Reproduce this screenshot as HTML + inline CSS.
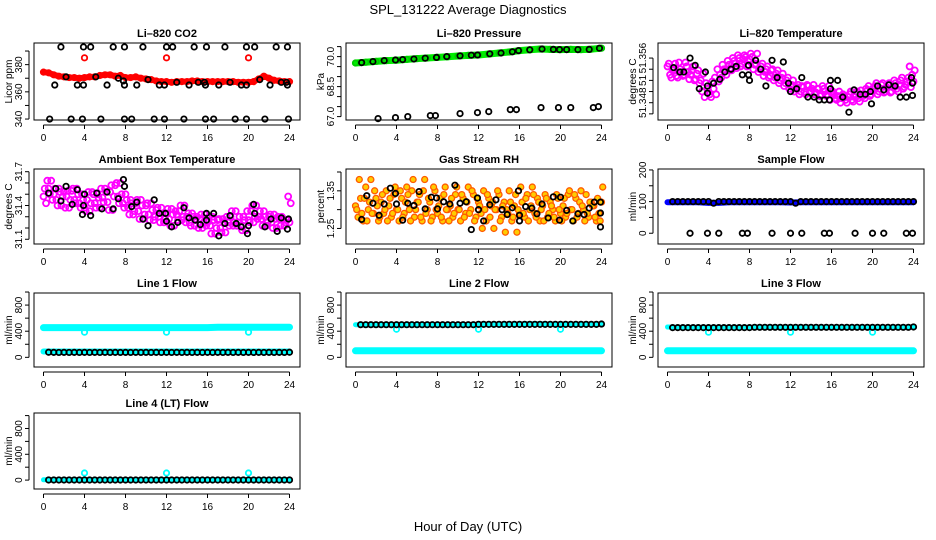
<!DOCTYPE html>
<html><head><meta charset="utf-8"><style>
html,body{margin:0;padding:0;background:#fff}
svg{display:block}
text{font-family:"Liberation Sans",sans-serif;fill:#000}
</style></head><body>
<svg id="chart" width="936" height="540" viewBox="0 0 936 540" xmlns="http://www.w3.org/2000/svg">
<text x="468" y="14" font-size="13" text-anchor="middle">SPL_131222  Average Diagnostics</text>
<text x="468" y="531" font-size="13" text-anchor="middle">Hour of Day (UTC)</text>
</svg>
<script>
// ---------- data ----------
const xTicks = [0,4,8,12,16,20,24];
// CO2
const co2RedT = [0,0.5,1,1.5,2,2.5,3,3.5,4,4.5,5,5.5,6,6.5,7,7.5,8,8.5,9,9.5,10,10.5,11,11.5,12,12.5,13,13.5,14,14.5,15,15.5,16,16.5,17,17.5,18,18.5,19,19.5,20,20.5,21,21.5,22,22.5,23,23.5,24];
const co2Red = [374.5,374,372.5,371.5,371,370.5,370.5,370,370.5,371,371,372,372.5,372.5,371.5,372,370.5,370.5,371,370,369.5,369,368,367.5,367.5,367,367.5,367.5,367.5,368,368,367.5,367.5,367.5,367.5,367.5,367.5,367.5,367,367,367,367.5,369.5,371.5,370,368.5,368,367.5,367.5];
const co2RedOutT = [4,12,20];
const co2RedOut = [385,385,385];
const co2BlackT = [0.6,1.1,1.7,2.2,2.7,3.3,3.8,3.9,3.9,4.6,5.1,5.6,6.2,6.8,7.3,7.8,7.9,7.9,7.9,8.6,9.1,9.7,10.2,10.8,11.3,11.8,11.8,12.0,12.6,13.0,13.7,14.2,14.7,15.1,15.7,15.8,15.8,15.9,16.6,17.1,17.7,18.2,18.7,19.3,19.8,19.8,19.8,20.6,21.1,21.6,22.1,22.7,23.2,23.7,23.8,23.8,23.9];
const co2Black = [340,365,393,371,340,365,340,393,365,393,371,340,365,393,370,368,393,340,365,340,365,393,369,340,365,340,365,393,393,367,340,365,393,367,367,340,365,393,340,365,393,367,340,365,340,365,393,393,369,340,365,393,367,367,393,365,340];
// Pressure
const presGreenT = [0,1,2,3,4,5,6,7,8,9,10,11,12,13,14,15,16,17,18,19,20,21,22,23,24];
const presGreen = [69.68,69.72,69.76,69.8,69.82,69.86,69.9,69.93,69.96,69.99,70.03,70.06,70.08,70.13,70.18,70.23,70.3,70.34,70.38,70.36,70.35,70.36,70.35,70.37,70.42];
const presBlackT = [0.6,1.7,2.8,3.9,4.6,5.7,6.8,7.9,8.9,10.2,11.3,11.9,13.1,14.2,15.3,15.9,17.0,18.2,19.3,19.9,20.6,21.7,22.8,23.8,2.2,3.9,5.1,7.3,7.8,10.2,11.9,13.0,15.1,15.7,18.1,19.8,21.0,23.2,23.7];
const presBlack = [69.7,69.75,69.8,69.83,69.85,69.88,69.92,69.96,70.0,70.04,70.07,70.08,70.14,70.18,70.24,70.3,70.34,70.38,70.36,70.35,70.35,70.35,70.36,70.42,66.9,66.95,67.0,67.05,67.05,67.15,67.2,67.25,67.35,67.35,67.45,67.45,67.45,67.45,67.5];
// Li-820 temperature (magenta every 0.25 h)
const ltMag = [51.3545,51.3530,51.3538,51.3550,51.3525,51.3540,51.3528,51.3552,51.3535,51.3530,51.3545,51.3522,51.3538,51.3520,51.3532,51.3515,51.3500,51.3490,51.3505,51.3495,51.3518,51.3525,51.3540,51.3530,51.3548,51.3538,51.3555,51.3542,51.3560,51.3550,51.3565,51.3545,51.3558,51.3562,51.3548,51.3568,51.3540,51.3550,51.3535,51.3545,51.3528,51.3540,51.3525,51.3538,51.3520,51.3532,51.3515,51.3525,51.3510,51.3520,51.3505,51.3512,51.3500,51.3508,51.3495,51.3510,51.3500,51.3512,51.3498,51.3505,51.3495,51.3505,51.3492,51.3510,51.3500,51.3495,51.3485,51.3500,51.3488,51.3492,51.3480,51.3495,51.3485,51.3490,51.3500,51.3482,51.3495,51.3488,51.3502,51.3492,51.3505,51.3510,51.3495,51.3505,51.3515,51.3500,51.3512,51.3498,51.3508,51.3515,51.3500,51.3520,51.3505,51.3512,51.3525,51.3508,51.3518];
const ltBlackT = [0.6,1.2,1.6,2.2,2.7,3.1,3.7,3.9,3.9,4.5,5.1,5.6,6.2,6.7,7.3,7.9,8.0,7.9,8.6,9.1,9.6,10.2,10.7,11.3,11.8,12.0,12.6,13.1,13.7,14.3,14.8,15.3,15.8,15.9,15.9,16.6,17.1,17.7,18.2,18.8,19.3,19.8,19.9,20.5,21.1,21.6,22.2,22.7,23.3,23.8,23.9,23.9];
const ltBlack = [51.3543,51.3535,51.3535,51.356,51.3547,51.3505,51.3535,51.351,51.3497,51.3515,51.3522,51.3535,51.354,51.3545,51.353,51.353,51.352,51.3547,51.3556,51.354,51.351,51.3556,51.3525,51.3553,51.3515,51.35,51.3505,51.3525,51.349,51.349,51.3485,51.3485,51.3485,51.352,51.3505,51.352,51.349,51.3463,51.3503,51.3495,51.3495,51.35,51.3478,51.351,51.3503,51.3512,51.351,51.349,51.349,51.3525,51.3515,51.3493];
// Ambient box temperature
const abMag = [31.48,31.42,31.55,31.62,31.50,31.45,31.55,31.40,31.52,31.48,31.38,31.53,31.45,31.55,31.42,31.50,31.38,31.45,31.35,31.52,31.42,31.50,31.38,31.47,31.55,31.43,31.52,31.36,31.58,31.48,31.60,31.42,31.50,31.38,31.45,31.32,31.42,31.35,31.45,31.28,31.40,31.32,31.42,31.27,31.36,31.30,31.38,31.25,31.33,31.28,31.37,31.22,31.32,31.35,31.27,31.40,31.30,31.25,31.33,31.22,31.30,31.28,31.20,31.32,31.25,31.22,31.30,31.15,31.27,31.20,31.28,31.16,31.25,31.30,31.22,31.35,31.25,31.22,31.30,31.18,31.27,31.35,31.25,31.40,31.30,31.28,31.35,31.22,31.30,31.25,31.32,31.20,31.28,31.30,31.22,31.27,31.25];
const abBlackT = [0.5,1.2,1.7,2.2,2.8,3.3,3.8,3.9,4.0,4.6,5.2,5.7,6.2,6.8,7.3,7.8,7.9,8.6,9.1,9.7,10.2,10.8,11.3,11.9,12.0,12.5,13.1,13.7,14.2,14.8,15.3,15.9,15.9,16.6,17.1,17.7,18.2,18.8,19.3,19.9,20.0,20.5,20.6,21.6,22.2,22.8,23.2,23.8,23.9];
const abBlack = [31.51,31.55,31.44,31.57,31.41,31.54,31.32,31.40,31.50,31.31,31.51,31.37,31.52,31.37,31.46,31.63,31.57,31.39,31.43,31.28,31.22,31.45,31.33,31.33,31.26,31.21,31.25,31.38,31.29,31.27,31.23,31.33,31.27,31.33,31.13,31.24,31.31,31.24,31.21,31.15,31.22,31.41,31.33,31.21,31.28,31.17,31.29,31.19,31.28];
// Gas stream RH
const rhCloud = [1.31,1.28,1.33,1.27,1.36,1.30,1.38,1.29,1.33,1.27,1.32,1.29,1.35,1.31,1.28,1.34,1.30,1.27,1.33,1.29,1.36,1.30,1.35,1.28,1.32,1.34,1.27,1.38,1.30,1.32,1.28,1.35,1.29,1.33,1.27,1.36,1.30,1.31,1.28,1.34,1.30,1.27,1.33,1.29,1.36,1.30,1.34,1.28,1.32,1.29,1.35,1.27,1.33,1.31,1.25,1.30,1.34,1.28,1.32,1.30,1.35,1.27,1.31,1.24,1.29,1.32,1.28,1.34,1.30,1.36,1.29,1.33,1.27,1.31,1.34,1.28,1.32,1.30,1.27,1.33,1.29,1.31,1.28,1.34,1.30,1.27,1.33,1.29,1.35,1.30,1.34,1.28,1.32,1.31,1.27,1.29,1.32];
const rhBlackT = [0.6,1.1,1.7,2.3,2.8,3.4,3.9,4.0,4.6,5.1,5.7,6.2,6.8,7.4,7.9,8.0,8.6,9.2,9.7,10.2,10.8,11.3,11.9,12.0,12.5,13.1,13.7,14.3,14.8,15.3,15.9,16.0,16.0,16.6,17.2,17.7,18.2,18.8,19.3,19.9,20.0,20.6,21.2,21.7,22.3,22.8,23.3,23.9,23.9,23.9];
const rhBlack = [1.274,1.337,1.317,1.285,1.315,1.357,1.343,1.315,1.272,1.317,1.311,1.348,1.302,1.333,1.331,1.302,1.321,1.315,1.365,1.317,1.321,1.247,1.331,1.30,1.27,1.313,1.326,1.30,1.287,1.305,1.35,1.285,1.27,1.308,1.304,1.289,1.315,1.278,1.334,1.272,1.333,1.298,1.27,1.289,1.287,1.304,1.32,1.32,1.291,1.254];
// Flows: hourly cyan bands, half-hourly black points
const hourT = [0,1,2,3,4,5,6,7,8,9,10,11,12,13,14,15,16,17,18,19,20,21,22,23,24];
const halfT = [0.5,1,1.5,2,2.5,3,3.5,4,4.5,5,5.5,6,6.5,7,7.5,8,8.5,9,9.5,10,10.5,11,11.5,12,12.5,13,13.5,14,14.5,15,15.5,16,16.5,17,17.5,18,18.5,19,19.5,20,20.5,21,21.5,22,22.5,23,23.5,24];
const sampleBlue = [98,98,98,98,96,96,98,98,98,98,98,98,97,98,98,98,98,98,98,98,98,98,98,98,98];
const sampleBlack = [100,100,100,100,100,100,100,100,95,100,100,100,100,100,100,100,100,100,100,100,100,100,100,100,95,100,100,100,100,100,100,100,100,100,100,100,100,100,100,100,100,100,100,100,100,100,100,100];
const sampleZeroT = [2.2,3.9,5.0,7.3,7.8,10.2,12.0,13.1,15.3,15.8,18.3,20.0,21.1,23.3,23.9];
const sampleZero = [0,0,0,0,0,0,0,0,0,0,0,0,0,0,0,0];
const l1High = [455,455,455,455,455,455,455,455,455,455,455,455,455,455,455,455,455,460,462,462,462,462,462,462,462];
const l1Low = [90,90,90,90,90,90,90,90,90,90,90,90,90,90,90,90,90,90,90,90,90,90,90,90,90];
const l1Black = [78,76,75,76,75,76,75,76,75,76,75,76,75,76,75,76,75,76,75,76,75,76,75,76,75,76,75,76,75,76,75,76,75,76,75,76,75,76,75,76,75,76,75,76,75,76,75,78];
const l2High = [500,500,500,500,500,500,500,500,500,500,500,500,500,500,500,500,510,515,515,510,505,505,505,505,505];
const l2Low = [100,100,100,100,100,100,100,100,100,100,100,100,100,100,100,100,100,100,100,100,100,100,100,100,100];
const l2Black = [500,500,500,500,500,500,500,500,500,500,500,500,500,500,500,500,500,500,500,500,500,500,500,505,505,505,505,505,505,505,505,505,505,505,505,505,505,505,505,505,505,505,505,505,505,505,505,510];
const l3High = [465,460,460,460,460,460,460,460,460,460,460,460,460,460,460,460,460,460,460,460,460,460,460,460,465];
const l3Low = [100,100,100,100,100,100,100,100,100,100,100,100,100,100,100,100,100,100,100,100,100,100,100,100,100];
const l3Black = [455,455,455,455,455,455,455,455,455,455,455,455,455,455,455,455,460,460,460,460,460,460,460,460,460,460,460,460,460,460,460,460,460,460,460,460,460,460,460,460,460,460,460,460,460,460,460,465];
const l4Low = [5,5,5,5,5,5,5,5,5,5,5,5,5,5,5,5,5,5,5,5,5,5,5,5,5];
const l4Black = [2,2,2,2,2,2,2,2,2,2,2,2,2,2,2,2,2,2,2,2,2,2,2,2,2,2,2,2,2,2,2,2,2,2,2,2,2,2,2,2,2,2,2,2,2,2,2,2];
const outT = [4,12,20];
const l1Out = [385,385,385];
const l2Out = [430,430,430];
const l3Out = [385,385,385];
const l4Out = [110,110,110];

// ---------- drawing ----------
const svg = document.getElementById('chart');
const NS = 'http://www.w3.org/2000/svg';
function el(tag, attrs, name, parent){
  const e = document.createElementNS(NS, tag);
  for (const k in attrs) e.setAttribute(k, attrs[k]);
  
  
  (parent||svg).appendChild(e);
  return e;
}
const rowTop = [43,169,293,413], rowBot = [120,244,367,489];
function panel(c, r, cfg){
  const g = el('g', {}, cfg.id + '-panel');
  const L = c*312 + 34, R = c*312 + 300, T = rowTop[r], B = rowBot[r];
  const X = t => c*312 + 43.5 + t*10.25;
  const Y = v => B - (v - cfg.lo)/(cfg.hi - cfg.lo)*(B - T);
  el('rect', {x:L, y:T, width:R-L, height:B-T, fill:'none', stroke:'#000', 'stroke-width':1}, cfg.id + '-plot-box', g);
  const t = el('text', {x:(L+R)/2, y:T-6, 'font-size':11, 'font-weight':'bold', 'text-anchor':'middle'}, cfg.id + '-title', g);
  t.textContent = cfg.title;
  el('line', {x1:X(0), x2:X(24), y1:B+5, y2:B+5, stroke:'#000'}, cfg.id + '-x-axis', g);
  xTicks.forEach(v => {
    el('line', {x1:X(v), x2:X(v), y1:B+5, y2:B+9, stroke:'#000'}, cfg.id + '-x-tick', g);
    const tx = el('text', {x:X(v), y:B+21, 'font-size':10, 'text-anchor':'middle'}, cfg.id + '-x-tick-label', g);
    tx.textContent = v;
  });
  const yt = cfg.ticks;
  el('line', {x1:L-5, x2:L-5, y1:Y(yt[0]), y2:Y(yt[yt.length-1]), stroke:'#000'}, cfg.id + '-y-axis', g);
  yt.forEach(v => {
    el('line', {x1:L-9, x2:L-5, y1:Y(v), y2:Y(v), stroke:'#000'}, cfg.id + '-y-tick', g);
  });
  cfg.labelVals.forEach((v,i) => {
    const yy = Y(v);
    const tx = el('text', {x:0, y:0, 'font-size':10, 'text-anchor':'middle', transform:`translate(${L-12},${yy}) rotate(-90)`}, cfg.id + '-y-tick-label', g);
    tx.textContent = cfg.labels[i];
  });
  const yl = el('text', {x:0, y:0, 'font-size':10, 'text-anchor':'middle', transform:`translate(${c*312+12},${(T+B)/2}) rotate(-90)`}, cfg.id + '-y-axis-title', g);
  yl.textContent = cfg.ylab;
  const clip = el('g', {}, cfg.id + '-marks', g);
  return {X, Y, g: clip};
}
function pts(p, ts, vs, color, name, r, fill, sw){
  ts.forEach((t,i) => {
    if (vs[i] === undefined) return;
    el('circle', {cx:p.X(t), cy:p.Y(vs[i]), r:r||2.7, fill:fill||'none', stroke:color, 'stroke-width':sw||1.8}, name, p.g);
  });
}
function band(p, ts, vs, color, name, w){
  const d = ts.map((t,i) => (i?'L':'M') + p.X(t).toFixed(1) + ',' + p.Y(vs[i]).toFixed(1)).join('');
  el('path', {d:d, fill:'none', stroke:color, 'stroke-width':w, 'stroke-linejoin':'round', 'stroke-linecap':'round'}, name, p.g);
}
const qT = ltMag.map((_,i) => i*0.25);

let p = panel(0,0,{id:'co2', title:'Li\u2013820 CO2', ylab:'Licor ppm', lo:339.3, hi:395.9, ticks:[340,350,360,370,380,390], labelVals:[340,360,380], labels:['340','360','380']});
band(p, co2RedT, co2Red, '#ff0000', 'co2-red-band', 6);
pts(p, co2RedT, co2Red, '#ff0000', 'co2-red-point');
pts(p, co2RedOutT, co2RedOut, '#ff0000', 'co2-red-outlier');
pts(p, co2BlackT, co2Black, '#000', 'co2-black-point');

p = panel(1,0,{id:'pressure', title:'Li\u2013820 Pressure', ylab:'kPa', lo:66.83, hi:70.68, ticks:[67,67.5,68,68.5,69,69.5,70,70.5], labelVals:[67,68.5,70], labels:['67.0','68.5','70.0']});
band(p, presGreenT, presGreen, '#00ee00', 'pressure-green-band', 7);
pts(p, presGreenT, presGreen, '#00cc00', 'pressure-green-point');
pts(p, presBlackT, presBlack, '#000', 'pressure-black-point');

p = panel(2,0,{id:'li-temp', title:'Li\u2013820 Temperature', ylab:'degrees C', lo:51.3449, hi:51.3587, ticks:[51.346,51.348,51.350,51.352,51.354,51.356], labelVals:[51.348,51.352,51.356], labels:['51.348','51','51.356']});
pts(p, qT, ltMag, '#ff00ff', 'li-temp-magenta-point', 3);
pts(p, qT.map(t=>t+0.12), ltMag.map((v,i)=>ltMag[(i+3)%ltMag.length]), '#ff00ff', 'li-temp-magenta-point', 3);
pts(p, ltBlackT, ltBlack, '#000', 'li-temp-black-point');

p = panel(0,1,{id:'ambient', title:'Ambient Box Temperature', ylab:'degrees C', lo:31.058, hi:31.724, ticks:[31.1,31.2,31.3,31.4,31.5,31.6,31.7], labelVals:[31.1,31.4,31.7], labels:['31.1','31.4','31.7']});
pts(p, qT, abMag, '#ff00ff', 'ambient-magenta-point', 3);
pts(p, qT.map(t=>t+0.12), abMag.map((v,i)=>abMag[(i+2)%abMag.length]), '#ff00ff', 'ambient-magenta-point', 3);
pts(p, abBlackT, abBlack, '#000', 'ambient-black-point');

p = panel(1,1,{id:'rh', title:'Gas Stream RH', ylab:'percent', lo:1.2087, hi:1.408, ticks:[1.25,1.30,1.35,1.40], labelVals:[1.25,1.35], labels:['1.25','1.35']});
pts(p, qT, rhCloud, '#ff5a00', 'rh-orange-point', 3, '#ffcc00', 1.3);
pts(p, qT.map(t=>t+0.12), rhCloud.map((v,i)=>rhCloud[(i+5)%rhCloud.length]), '#ff5a00', 'rh-orange-point', 3, '#ffcc00', 1.3);
pts(p, rhBlackT, rhBlack, '#000', 'rh-black-point');

p = panel(2,1,{id:'sample-flow', title:'Sample Flow', ylab:'ml/min', lo:-34, hi:203, ticks:[0,50,100,150,200], labelVals:[0,100,200], labels:['0','100','200']});
band(p, hourT, sampleBlue, '#0000ff', 'sample-flow-blue-band', 6);
pts(p, halfT, sampleBlack, '#000', 'sample-flow-black-point');
pts(p, sampleZeroT, sampleZero, '#000', 'sample-flow-zero-point');

const flowCfg = (id,title,r) => ({id, title, ylab:'ml/min', lo: r===2?-148:-138, hi: r===2?985:1040, ticks:[0,200,400,600,800,1000], labelVals:[0,400,800], labels:['0','400','800']});
p = panel(0,2,flowCfg('line1','Line 1 Flow',2));
band(p, hourT, l1High, '#00ffff', 'line1-cyan-high-band', 7);
band(p, hourT, l1Low, '#00ffff', 'line1-cyan-low-band', 6);
pts(p, outT, l1Out, '#00ffff', 'line1-cyan-outlier');
pts(p, halfT, l1Black, '#000', 'line1-black-point');
p = panel(1,2,flowCfg('line2','Line 2 Flow',2));
band(p, hourT, l2Low, '#00ffff', 'line2-cyan-low-band', 7);
band(p, hourT, l2High, '#00ffff', 'line2-cyan-high-band', 5);
pts(p, outT, l2Out, '#00ffff', 'line2-cyan-outlier');
pts(p, halfT, l2Black, '#000', 'line2-black-point');
p = panel(2,2,flowCfg('line3','Line 3 Flow',2));
band(p, hourT, l3Low, '#00ffff', 'line3-cyan-low-band', 7);
band(p, hourT, l3High, '#00ffff', 'line3-cyan-high-band', 5);
pts(p, outT, l3Out, '#00ffff', 'line3-cyan-outlier');
pts(p, halfT, l3Black, '#000', 'line3-black-point');
p = panel(0,3,flowCfg('line4','Line 4 (LT) Flow',3));
band(p, hourT, l4Low, '#00ffff', 'line4-cyan-band', 5);
pts(p, outT, l4Out, '#00ffff', 'line4-cyan-outlier');
pts(p, halfT, l4Black, '#000', 'line4-black-point');
</script>
</body></html>
